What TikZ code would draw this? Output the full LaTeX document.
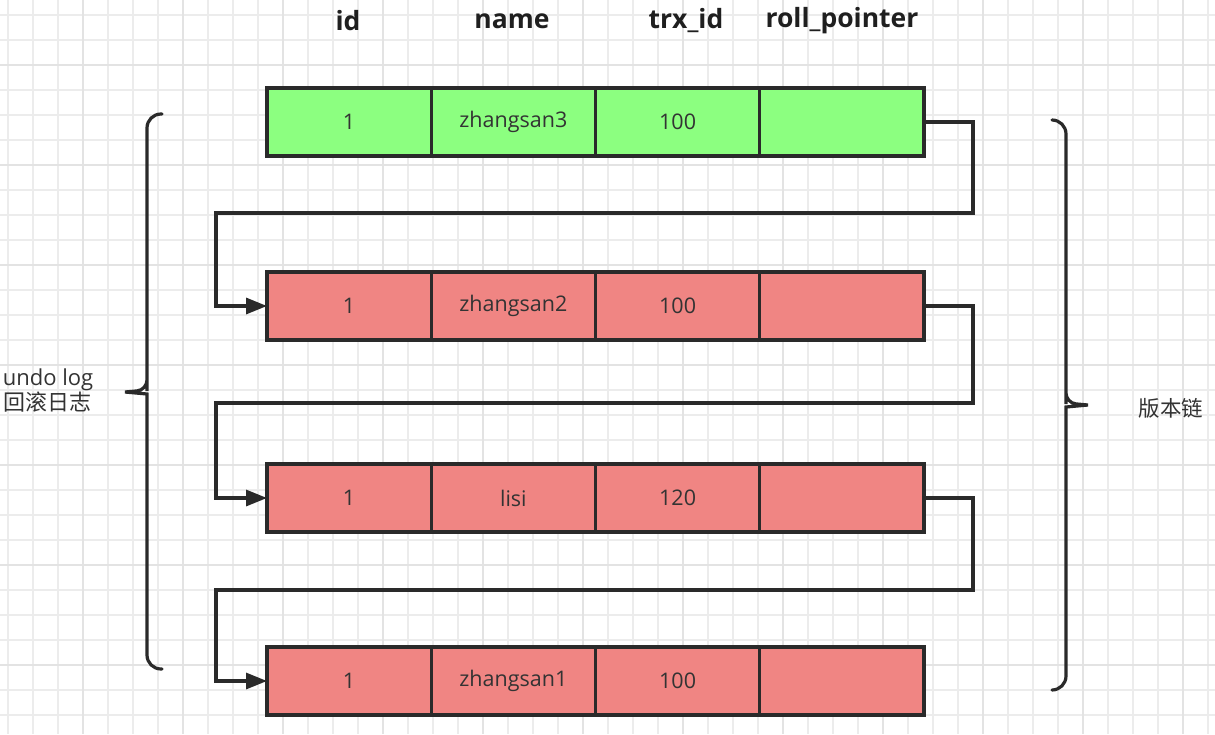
\documentclass[tikz,border=0pt]{standalone}
\usepackage{fontspec}
\setmainfont{Open Sans}
\newfontfamily\cjk{Noto Sans CJK SC}
\usetikzlibrary{arrows.meta}
\definecolor{gridminor}{HTML}{ECECEC}
\definecolor{gridmajor}{HTML}{E3E3E3}
\definecolor{newrow}{HTML}{8CFF80}
\definecolor{oldrow}{HTML}{F08583}
\definecolor{ink}{HTML}{2A2A2A}
\definecolor{txt}{HTML}{333333}
\tikzset{
  cell/.style={draw=ink, line width=3.4pt, minimum width=164.25pt, minimum height=68pt,
    inner sep=0pt, outer sep=0pt, text=txt, font=\fontsize{21.5}{26}\selectfont},
  newcell/.style={cell, fill=newrow},
  oldcell/.style={cell, fill=oldrow},
  header/.style={font=\fontsize{26.5}{30}\selectfont\bfseries, text=black!88},
  conn/.style={draw=ink, line width=3.2pt},
  arr/.style={conn, -{Triangle[length=21pt,width=16pt]}},
  brace/.style={draw=ink, line width=3.2pt, rounded corners=14pt, line cap=round},
  side/.style={text=txt, font=\fontsize{22}{28}\selectfont, align=center}
}
\begin{document}
\begin{tikzpicture}[x=1pt,y=-1pt]
\useasboundingbox (0,0) rectangle (1215,734);
\fill[white] (0,0) rectangle (1215,734);
% grid
\foreach \x in {8,33,...,1215} \draw[gridminor, line width=1.2pt] (\x,0) -- (\x,734);
\foreach \y in {15,40,...,734} \draw[gridminor, line width=1.2pt] (0,\y) -- (1215,\y);
\foreach \x in {83,183,...,1215} \draw[gridmajor, line width=1.4pt] (\x,0) -- (\x,734);
\foreach \y in {65,165,...,734} \draw[gridmajor, line width=1.4pt] (0,\y) -- (1215,\y);
% headers
\node[header] (hid) at (348,21) {id};
\node[header] (hname) at (512,21) {name};
\node[header] (htrx) at (686,21) {trx\_id};
\node[header] (hroll) at (842,21) {roll\_pointer};
% rows
\foreach \r/\y/\st/\nm/\tr in {1/122/newcell/zhangsan3/100, 2/306/oldcell/zhangsan2/100, 3/498/oldcell/lisi/120, 4/681/oldcell/zhangsan1/100}{
  \node[\st] (r\r c1) at (349.125,\y) {1};
  \node[\st] (r\r c2) at (513.375,\y) {\nm};
  \node[\st] (r\r c3) at (677.625,\y) {\tr};
  \node[\st] (r\r c4) at (841.875,\y) {};
}
% connectors
\coordinate (t1) at (973,213); \coordinate (b1) at (216,213);
\coordinate (t2) at (973,403); \coordinate (b2) at (216,403);
\coordinate (t3) at (973,590); \coordinate (b3) at (216,590);
\draw[arr] (r1c4.east) -| (t1) -- (b1) |- (r2c1.west);
\draw[arr] (r2c4.east) -| (t2) -- (b2) |- (r3c1.west);
\draw[arr] (r3c4.east) -| (t3) -- (b3) |- (r4c1.west);
% braces
\coordinate (lbt) at (162,114); \coordinate (lbtip) at (125,392); \coordinate (lbb) at (162,669);
\draw[brace] (lbt) -| (147,377) [rounded corners=10pt] -- (147,390) [sharp corners] -- (lbtip) -- (147,394) [rounded corners=10pt] -- (147,407) [rounded corners=14pt] |- (lbb);
\coordinate (rbt) at (1052,120); \coordinate (rbtip) at (1088,405); \coordinate (rbb) at (1052,690);
\draw[brace] (rbt) -| (1066,390) [rounded corners=10pt] -- (1066,403) [sharp corners] -- (rbtip) -- (1066,407) [rounded corners=10pt] -- (1066,420) [rounded corners=14pt] |- (rbb);
% side labels
\node[side] (undo) at (48,391) {undo log\\[-3pt]{\cjk 回滚日志}};
\node[side, font=\fontsize{21.5}{27}\selectfont\cjk] (chain) at (1171,408) {版本链};
\end{tikzpicture}
\end{document}
